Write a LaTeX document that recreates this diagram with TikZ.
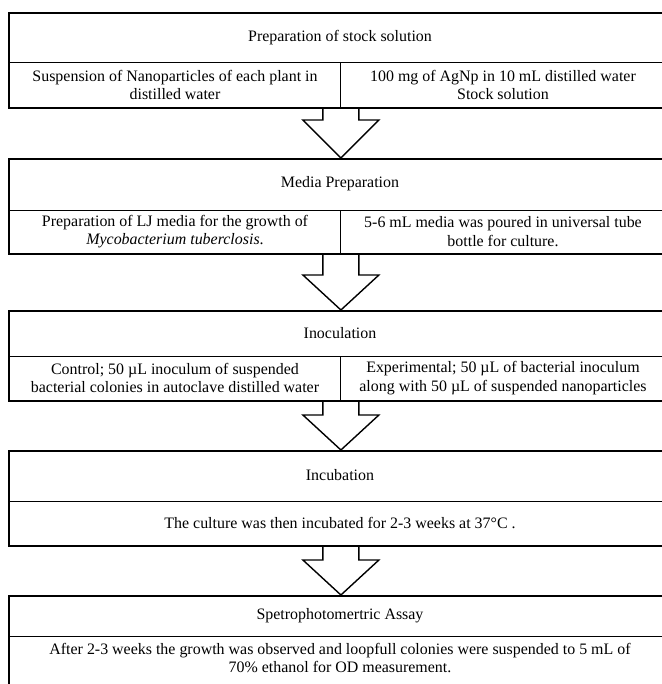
\documentclass[tikz,border=0pt]{standalone}
\usepackage{fontspec}
\setmainfont{Liberation Serif}
\usetikzlibrary{calc}
\newcommand\blockarr[3]{%
  \draw[barrow] ($(#1)+(-18,0)$) -- ($(#2)+(-18,-#3)$) -- ($(#2)+(-38,-#3)$) -- (#2)
    -- ($(#2)+(38,-#3)$) -- ($(#2)+(18,-#3)$) -- ($(#1)+(18,0)$);}
\begin{document}
\begin{tikzpicture}[x=1bp,y=-1bp,
  outer/.style={draw=black, line width=1.8bp, rectangle, inner sep=0pt, anchor=north west, minimum width=664bp},
  inner/.style={draw=black, line width=1bp},
  txt/.style={font=\fontsize{16}{18.5}\selectfont, align=center, inner sep=0pt},
  barrow/.style={draw=black, line width=1.4bp, line join=miter}]
\useasboundingbox (0,0) rectangle (662,684);
\clip (0,0) rectangle (662,684);
% boxes
\node[outer, minimum height=95bp] (b1) at (8,12) {};
\node[outer, minimum height=95bp] (b2) at (8,158) {};
\node[outer, minimum height=90bp] (b3) at (8,310) {};
\node[outer, minimum height=95bp] (b4) at (8,450) {};
\node[outer, minimum height=110bp] (b5) at (8,595) {};
% dividers
\draw[inner] (8,63) -- (672,63);
\draw[inner] (340,63) -- (340,107);
\draw[inner] (8,210) -- (672,210);
\draw[inner] (340,210) -- (340,253);
\draw[inner] (8,356) -- (672,356);
\draw[inner] (340,356) -- (340,400);
\draw[inner] (8,501) -- (672,501);
\draw[inner] (8,636) -- (672,636);
% texts
\node[txt] (t1) at (340,38) {Preparation of stock solution};
\node[txt] (l1) at (175,85) {Suspension of Nanoparticles of each plant in\\distilled water};
\node[txt] (r1) at (503,85) {100 mg of AgNp in 10 mL distilled water\\Stock solution};
\node[txt] (t2) at (340,184) {Media Preparation};
\node[txt] (l2) at (175,231.5) {Preparation of LJ media for the growth of\\\textit{Mycobacterium tuberclosis}.};
\node[txt] (r2) at (503,231.5) {5-6 mL media was poured in universal tube\\bottle for culture.};
\node[txt] (t3) at (340,333) {Inoculation};
\node[txt] (l3) at (175,378) {Control; 50 µL inoculum of suspended\\bacterial colonies in autoclave distilled water};
\node[txt] (r3) at (503,378) {Experimental; 50 µL of bacterial inoculum\\along with 50 µL of suspended nanoparticles};
\node[txt] (t4) at (340,475.5) {Incubation};
\node[txt] (c4) at (340,523) {The culture was then incubated for 2-3 weeks at 37°C .};
\node[txt] (t5) at (340,615.5) {Spetrophotomertric Assay};
\node[txt] (c5) at (340,658) {After 2-3 weeks the growth was observed and loopfull colonies were suspended to 5 mL of\\70\% ethanol for OD measurement.};
% arrows
\blockarr{b1.south}{b2.north}{38}
\blockarr{b2.south}{b3.north}{35}
\blockarr{b3.south}{b4.north}{35}
\blockarr{b4.south}{b5.north}{35}
\end{tikzpicture}
\end{document}
